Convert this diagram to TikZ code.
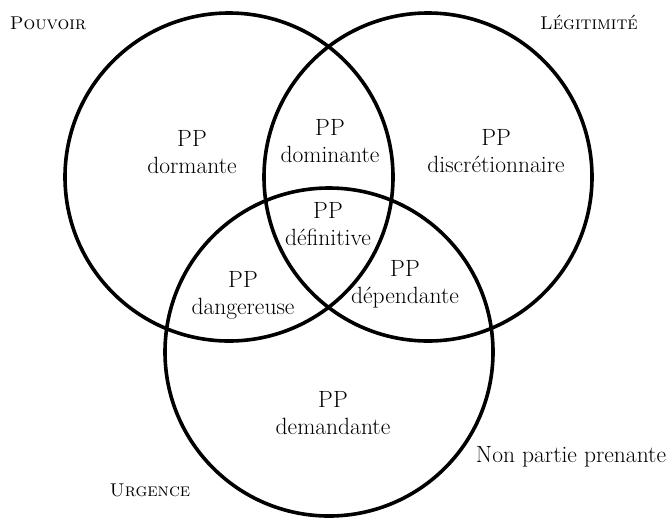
\documentclass[tikz,border=0pt]{standalone}
\usepackage{tikz}
\usetikzlibrary{positioning}

\tikzset{
	venn/.style={line width=3.6pt},
	zone/.style={align=center,font=\fontsize{23.5}{27}\selectfont},
	titre/.style={font=\fontsize{18.5}{20}\selectfont}
}

\begin{document}
\begin{tikzpicture}[x=1pt,y=-1pt]
					\useasboundingbox (0,0) rectangle (668,520);

					\coordinate (cP) at (229,177);
					\coordinate (cL) at (428,177);
					\coordinate (cU) at (329,352);

					\draw[venn] (cP) circle[radius=164];
					\draw[venn] (cL) circle[radius=164];
					\draw[venn] (cU) circle[radius=164];

					\node[titre] (pouvoir) at (48,23) {\textsc{Pouvoir}};
					\node[titre] (legitimite) at (589,22) {\textsc{Légitimité}};
					\node[titre] (urgence) at (150,490) {\textsc{Urgence}};
					\node[zone] (non) at (571,457) {Non partie prenante};

					\node[zone] (dormante) at (192,152) {PP\\dormante};
					\node[zone] (dominante) at (330,141) {PP\\dominante};
					\node[zone] (definitive) at (328,224) {PP\\définitive};
					\node[zone] (discretion) at (496,151) {PP\\discrétionnaire};
					\node[zone] (dangereuse) at (243,295) {PP\\dangereuse};
					\node[zone] (dependante) at (405,284) {PP\\dépendante};
					\node[zone] (demandante) at (333,413) {PP\\demandante};

				\end{tikzpicture}
\end{document}
